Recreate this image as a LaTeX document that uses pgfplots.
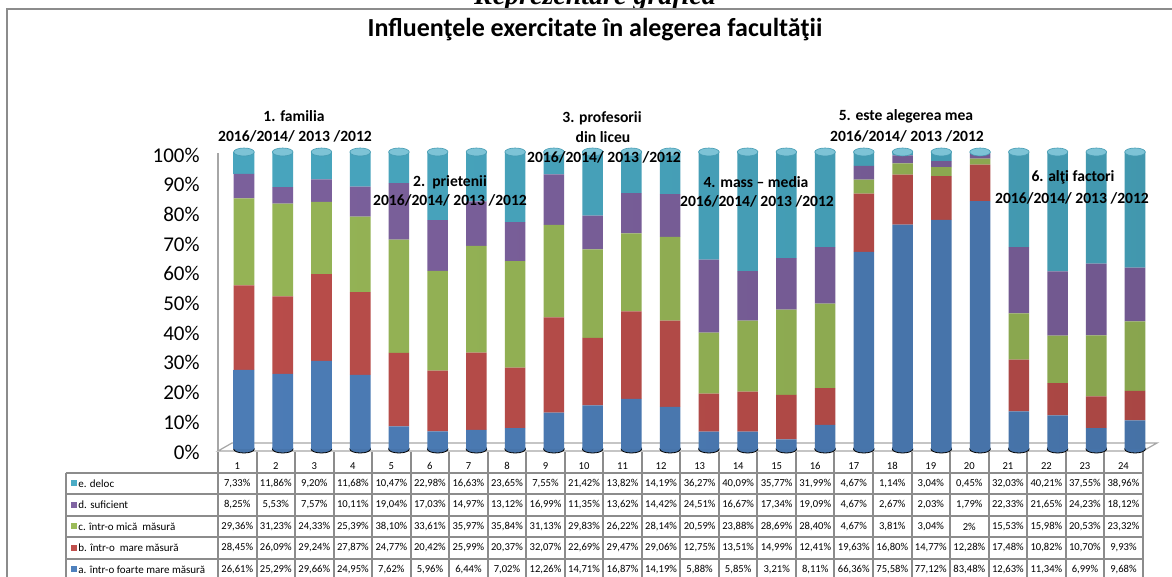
\documentclass[border=0pt]{standalone}
\usepackage{fontspec}
\setmainfont{Carlito}
\newfontfamily\serifbi{Liberation Serif}
\usepackage{pgfplots}
\usepackage{pgfplotstable}
\pgfplotsset{compat=1.18}
\definecolor{cA}{HTML}{4F81BD}
\definecolor{cB}{HTML}{C0504D}
\definecolor{cC}{HTML}{9BBB59}
\definecolor{cD}{HTML}{8064A2}
\definecolor{cE}{HTML}{4BACC6}
\definecolor{gridg}{HTML}{8C8C8C}

\pgfplotstableread{
x a b c d e
1 26.61 28.45 29.36 8.25 7.33
2 25.29 26.09 31.23 5.53 11.86
3 29.66 29.24 24.33 7.57 9.20
4 24.95 27.87 25.39 10.11 11.68
5 7.62 24.77 38.10 19.04 10.47
6 5.96 20.42 33.61 17.03 22.98
7 6.44 25.99 35.97 14.97 16.63
8 7.02 20.37 35.84 13.12 23.65
9 12.26 32.07 31.13 16.99 7.55
10 14.71 22.69 29.83 11.35 21.42
11 16.87 29.47 26.22 13.62 13.82
12 14.19 29.06 28.14 14.42 14.19
13 5.88 12.75 20.59 24.51 36.27
14 5.85 13.51 23.88 16.67 40.09
15 3.21 14.99 28.69 17.34 35.77
16 8.11 12.41 28.40 19.09 31.99
17 66.36 19.63 4.67 4.67 4.67
18 75.58 16.80 3.81 2.67 1.14
19 77.12 14.77 3.04 2.03 3.04
20 83.48 12.28 2 1.79 0.45
21 12.63 17.48 15.53 22.33 32.03
22 11.34 10.82 15.98 21.65 40.21
23 6.99 10.70 20.53 24.23 37.55
24 9.68 9.93 23.32 18.12 38.96
}\datatable

\pgfdeclareplotmark{cyltop}{\pgfpathellipse{\pgfpointorigin}{\pgfqpoint{5.15pt}{0pt}}{\pgfqpoint{0pt}{2pt}}\pgfusepathqfillstroke}

\pgfplotsset{
  cylaxis/.style={
    at={(112.3pt,-224.5pt)}, anchor=south west,
    width=464.9pt, height=148.5pt, scale only axis,
    xmin=0.5, xmax=24.5, ymin=0, ymax=100,
    clip=false,
  },
  cyl/.style={draw=none, left color=#1!96!black, middle color=#1!78!white, right color=#1!88!black},
}

\begin{document}
\begin{tikzpicture}[x=0.5pt,y=-0.5pt]
\useasboundingbox (0,0) rectangle (1172,577);
\node[font=\serifbi\bfseries\itshape\fontsize{14}{16}\selectfont, anchor=base] at (595,5) {Reprezentare grafică};
\draw[fill=white, draw=gridg, line width=1pt] (7,9) rectangle (1200,620);
\node[font=\bfseries\fontsize{13}{15}\selectfont, anchor=base] at (595,37) {Influenţele exercitate în alegerea facultăţii};

% floor and wall
\draw[gray!70, line width=0.6pt, fill=white] (218,451) -- (1143,451) -- (1157,443) -- (232,443) -- cycle;
\draw[gray!70, line width=0.6pt] (218,451) -- (218,153);

% bottom caps
\begin{axis}[cylaxis, hide axis]
\addplot[only marks, mark=cyltop, mark options={fill=cA!90!black, draw=none}] table[x=x, y expr=0] {\datatable};
\end{axis}

% stacked cylinders
\begin{axis}[cylaxis,
  ybar stacked, bar width=10.3pt,
  axis line style={draw=none}, major tick length=0pt,
  xtick=\empty, ytick={0,10,...,100},
  /pgf/number format/assume math mode=true,
  yticklabel={\pgfmathprintnumber{\tick}\%},
  yticklabel style={font=\fontsize{10.5}{12}\selectfont, anchor=east, inner sep=0pt, xshift=-12.3pt, yshift=-1.5pt},
]
\addplot[cyl=cA] table[x=x, y=a] {\datatable};
\addplot[cyl=cB] table[x=x, y=b] {\datatable};
\addplot[cyl=cC] table[x=x, y=c] {\datatable};
\addplot[cyl=cD] table[x=x, y=d] {\datatable};
\addplot[cyl=cE] table[x=x, y=e] {\datatable};
\end{axis}

% top caps
\begin{axis}[cylaxis, hide axis]
\addplot[only marks, mark=cyltop, mark options={fill=cE!72!white, draw=cE!90!black, line width=0.3pt}] table[x=x, y expr=100] {\datatable};
\end{axis}

% annotations
\begin{scope}[every node/.style={font=\bfseries\fontsize{7.8}{9}\selectfont}]
\node at (294,116) {1. familia};
\node at (295,136) {2016/2014/ 2013 /2012};
\node at (450,182) {2.\ \ prietenii};
\node at (450,200) {2016/2014/ 2013 /2012};
\node at (602,118) {3. profesorii};
\node at (603,137) {din liceu};
\node at (604,157) {2016/2014/ 2013 /2012};
\node at (756,182) {4. mass – media};
\node at (757,201) {2016/2014/ 2013 /2012};
\node at (906,116) {5. este alegerea mea};
\node at (907,136) {2016/2014/ 2013 /2012};
\node at (1073,177) {6. alţi factori};
\node at (1072,198) {2016/2014/ 2013 /2012};
\end{scope}

% data table
\begin{scope}[gridg, line width=1pt]
\foreach \r in {0,...,5} {\draw (65.7,{472.7+21.5*\r}) -- (1142.7,{472.7+21.5*\r});}
\draw (65.7,472.7) -- (65.7,600);
\foreach \k in {0,...,24} {\draw ({218+38.53*\k},451.7) -- ({218+38.53*\k},600);}
\end{scope}
\foreach \k in {1,...,24} {\node[font=\fontsize{5.3}{6}\selectfont] at ({218+38.53*(\k-0.5)},466) {\k};}
\foreach \col/\lab/\clr [count=\r from 0] in {e/{e. deloc}/cE, d/{d. suficient}/cD, c/{c. într-o mică\ \ măsură}/cC, b/{b. într-o\ \ mare măsură}/cB, a/{a. într-o foarte mare măsură}/cA} {
  \fill[\clr] (70.5,{483.45+21.5*\r-3}) rectangle (76.5,{483.45+21.5*\r+3});
  \node[font=\fontsize{5.5}{6.5}\selectfont, anchor=west, inner sep=0pt] at (78,{483.45+21.5*\r}) {\lab};
  \foreach \i in {0,...,23} {
    \pgfplotstablegetelem{\i}{\col}\of\datatable
    \pgfmathtruncatemacro\isint{(\pgfplotsretval==round(\pgfplotsretval))}
    \node[font=\fontsize{5.3}{6}\selectfont] at ({218+38.53*(\i+0.5)},{483.45+21.5*\r}) {\ifnum\isint=1 \pgfmathprintnumber[assume math mode=true,fixed,precision=0]{\pgfplotsretval}\else\pgfmathprintnumber[assume math mode=true,use comma,fixed,fixed zerofill,precision=2]{\pgfplotsretval}\fi\%};
  }
}
\end{tikzpicture}
\end{document}
